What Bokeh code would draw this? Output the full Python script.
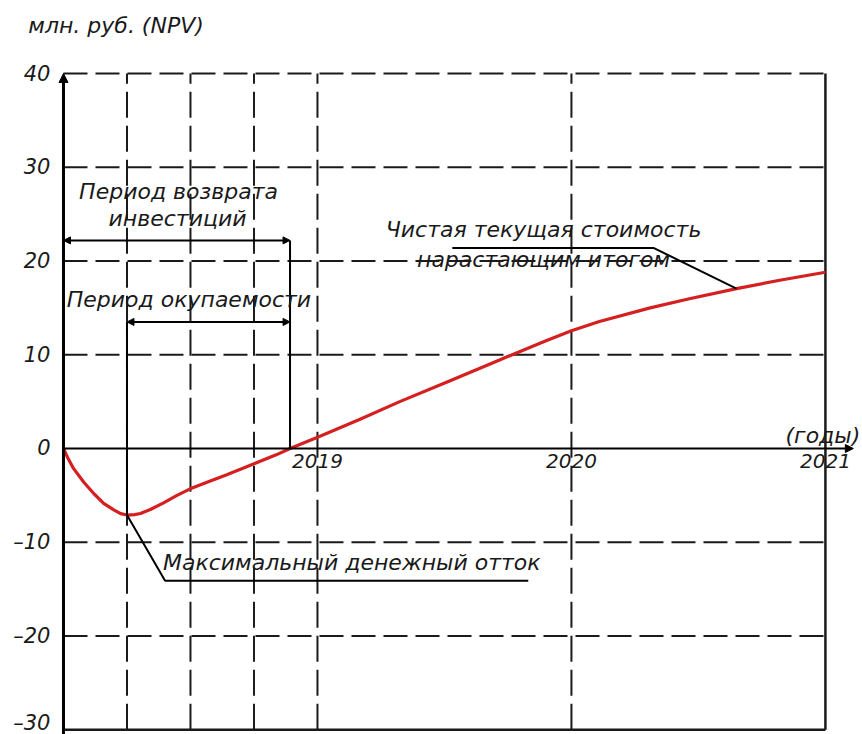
from bokeh.plotting import figure
from bokeh.models import Label, Arrow, NormalHead, FixedTicker, Range1d
from bokeh.embed import file_html
from bokeh.resources import INLINE

# ---- data ----
years = [2018.000, 2018.015, 2018.040, 2018.080, 2018.119, 2018.158, 2018.198, 2018.225,
         2018.250, 2018.280, 2018.303, 2018.342, 2018.394, 2018.447, 2018.499, 2018.565,
         2018.643, 2018.748, 2018.840, 2018.892, 2019.010, 2019.170, 2019.324, 2019.520,
         2019.717, 2019.900, 2020.000, 2020.110, 2020.310, 2020.460, 2020.650, 2020.820,
         2021.000]
npv = [0.0, -0.9, -2.15, -3.6, -4.8, -5.85, -6.55, -6.95,
       -7.1, -7.05, -6.93, -6.51, -5.8, -5.0, -4.3, -3.6,
       -2.8, -1.65, -0.65, 0.0, 1.3, 3.15, 5.0, 7.2,
       9.45, 11.5, 12.55, 13.55, 15.0, 15.95, 17.05, 17.95,
       18.8]

y_ticks = [-30, -20, -10, 0, 10, 20, 30, 40]
y_labels = {-30: "–30", -20: "–20", -10: "–10", 0: "0", 10: "10", 20: "20", 30: "30", 40: "40"}
h_grid = [-20, -10, 10, 20, 30, 40]
v_grid = [2018.25, 2018.5, 2018.75, 2019, 2020]
x_ticks = [2019, 2020, 2021]
x_labels = {2019: "2019", 2020: "2020", 2021: "2021"}

min_year, min_val = 2018.25, -7.1       # maximum cash outflow
payback_year = 2018.892                 # NPV crosses zero
x0, x1 = 2018, 2021
y0, y1 = -30, 40

FONT = "DejaVu Sans"
FS = "22px"
INK = "#1a1a1a"

X_START, X_END = 2017.752, 2021.146
Y_START, Y_END = -30.507, 47.787

p = figure(width=862, height=734, output_backend="svg", toolbar_location=None,
           x_range=Range1d(X_START, X_END), y_range=Range1d(Y_START, Y_END),
           min_border_left=0, min_border_right=0, min_border_top=0, min_border_bottom=0)
p.outline_line_color = None
p.xgrid.visible = False
p.ygrid.visible = False

# y axis standing on 2018 (labels only)
p.yaxis.fixed_location = x0
p.yaxis.ticker = FixedTicker(ticks=y_ticks)
p.yaxis.major_label_overrides = y_labels
p.yaxis.axis_line_color = None
p.yaxis.major_tick_line_color = None
p.yaxis.minor_tick_line_color = None
p.yaxis.major_label_standoff = 7
p.yaxis.major_label_text_font = FONT
p.yaxis.major_label_text_font_style = "italic"
p.yaxis.major_label_text_font_size = "21px"
p.yaxis.major_label_text_color = INK

# x axis sitting on the zero line
p.xaxis.fixed_location = 0
p.xaxis.ticker = FixedTicker(ticks=x_ticks)
p.xaxis.major_label_overrides = x_labels
p.xaxis.axis_line_color = None
p.xaxis.major_tick_line_color = None
p.xaxis.minor_tick_line_color = None
p.xaxis.major_label_standoff = 0
p.xaxis.major_label_text_font = FONT
p.xaxis.major_label_text_font_style = "italic"
p.xaxis.major_label_text_font_size = "20px"
p.xaxis.major_label_text_color = INK

# dashed grid
p.segment(x0=[x0] * len(h_grid), y0=h_grid, x1=[x1] * len(h_grid), y1=h_grid,
          line_color=INK, line_width=2, line_dash="24 8")
p.segment(x0=v_grid, y0=[y0] * len(v_grid), x1=v_grid, y1=[y1] * len(v_grid),
          line_color=INK, line_width=2, line_dash="26 8")
# solid borders
p.segment(x0=[x1, x0], y0=[y0, y0], x1=[x1, x1], y1=[y1, y0], line_color=INK, line_width=2.5)

# axes with arrows
p.add_layout(Arrow(x_start=x0, y_start=Y_START, x_end=x0, y_end=y1, line_width=3, line_color="black",
                   end=NormalHead(size=9, fill_color="black", line_color="black")))
p.add_layout(Arrow(x_start=x0, y_start=0, x_end=2021.11, y_end=0, line_width=2, line_color="black",
                   end=NormalHead(size=8, fill_color="black", line_color="black")))

# NPV curve
p.line(years, npv, line_color="#d42020", line_width=3.2, line_join="round")

# dimension lines
ret_y = 22.2
pay_y = 13.5
p.segment(x0=[payback_year, min_year], y0=[0, min_val], x1=[payback_year, min_year], y1=[ret_y, pay_y],
          line_color="black", line_width=2)
p.add_layout(Arrow(x_start=x0, y_start=ret_y, x_end=payback_year, y_end=ret_y, line_width=2,
                   start=NormalHead(size=7, fill_color="black"), end=NormalHead(size=7, fill_color="black")))
p.add_layout(Arrow(x_start=min_year, y_start=pay_y, x_end=payback_year, y_end=pay_y, line_width=2,
                   start=NormalHead(size=7, fill_color="black"), end=NormalHead(size=7, fill_color="black")))

# leader lines
p.line([2019.531, 2020.323, 2020.650], [21.4, 21.4, 17.05], line_color="black", line_width=2)
p.line([min_year, 2018.40, 2019.83], [min_val, -14.1, -14.1], line_color="black", line_width=2)


def lab(x, y, text):
    p.add_layout(Label(x=x, y=y, text=text, text_font=FONT, text_font_style="italic",
                       text_font_size=FS, text_color=INK, text_align="center",
                       text_baseline="middle"))


lab(2018.207, 45.1, "млн. руб. (NPV)")
lab(2018.453, 27.4, "Период возврата")
lab(2018.449, 24.5, "инвестиций")
lab(2018.494, 15.9, "Период окупаемости")
lab(2019.89, 23.4, "Чистая текущая стоимость")
lab(2019.89, 20.2, "нарастающим итогом")
lab(2019.135, -12.2, "Максимальный денежный отток")
lab(2020.99, 1.4, "(годы)")

open("out.html", "w").write(file_html(p, INLINE))
